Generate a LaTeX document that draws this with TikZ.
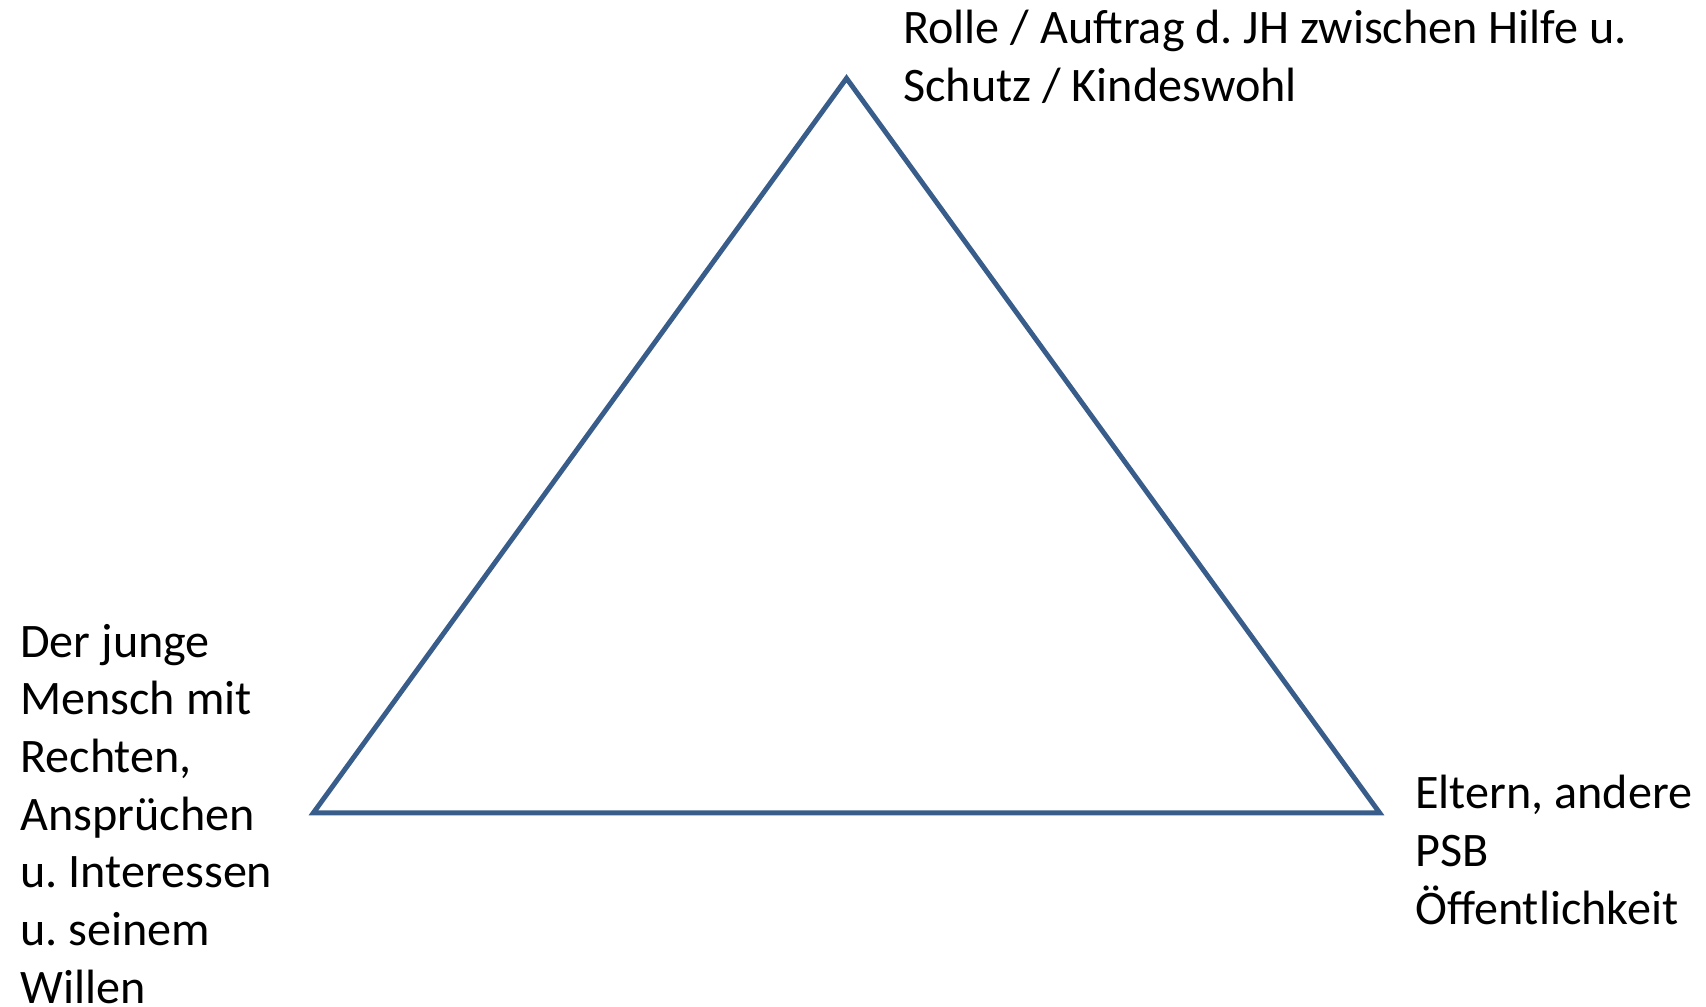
\documentclass[tikz,border=0pt]{standalone}
\usepackage{fontspec}
\setmainfont{Carlito}
\usepackage{tikz}
\usetikzlibrary{positioning}
\definecolor{lineblue}{RGB}{56,93,138}
\frenchspacing

\begin{document}
\begin{tikzpicture}[
        x=0.2mm, y=-0.2mm,
        label/.style={anchor=base west, align=left, inner sep=0pt, font=\fontsize{27.4}{32.8}\selectfont},
        side/.style={draw=lineblue, line width=2.8pt, line join=miter}
    ]
        \useasboundingbox (0,0) rectangle (1706,1007);
        % Corners
        \coordinate (top) at (846.5,78.3);
        \coordinate (left) at (313.4,812.8);
        \coordinate (right) at (1379.6,812.8);

        % Triangle
        \draw[side] (top) -- (right) -- (left) -- cycle;

        % Labels (anchored at the baseline of the last line)
        \node[label] (role) at (903,101) {Rolle / Auftrag d. JH zwischen Hilfe u.\\Schutz / Kindeswohl};
        \node[label] (youth) at (20,1003) {Der junge\\Mensch mit\\Rechten,\\Ansprüchen\\u. Interessen\\u. seinem\\Willen};
        \node[label] (parents) at (1415,924) {Eltern, andere\\PSB\\Öffentlichkeit};
    \end{tikzpicture}
\end{document}
